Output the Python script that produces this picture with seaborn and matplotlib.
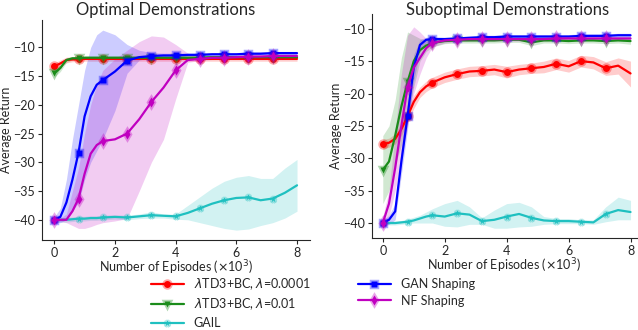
"""
plot.py
Average return vs. episodes for optimal and suboptimal demonstrations.
"""

import matplotlib
matplotlib.use("Agg")
import matplotlib.pyplot as plt
import seaborn as sns

# x grid (episodes, x10^3)
episodes = [0, 0.2, 0.4, 0.6, 0.8, 1.0, 1.2, 1.4, 1.6, 2.0, 2.4, 2.8, 3.2,
            3.6, 4.0, 4.4, 4.8, 5.2, 5.6, 6.0, 6.4, 6.8, 7.2, 7.6, 8.0]
marker_idx = [0, 4, 8, 10, 12, 14, 16, 18, 20, 22]

labels = [r"$\lambda$TD3+BC, $\lambda$=0.0001", r"$\lambda$TD3+BC, $\lambda$=0.01",
          "GAIL", "GAN Shaping", "NF Shaping"]
colors = ["#ff0000", "#1a8c1a", "#1fc0c0", "#0000ff", "#c000c0"]
markers = ["o", "v", "*", "s", "d"]

# ---- optimal demonstrations ----
opt_td3_4 = [-13.3, -12.8, -12.2, -12.1, -12.1, -12.0, -12.0, -12.0, -12.0, -12.0, -12.0, -12.0, -12.0,
             -12.0, -12.0, -12.0, -12.0, -12.0, -12.0, -12.0, -12.0, -12.0, -12.0, -12.0, -12.0]
opt_td3_4_lo = [-13.9, -13.4, -12.7, -12.5, -12.5, -12.4, -12.4, -12.4, -12.4, -12.4, -12.4, -12.4, -12.4,
                -12.4, -12.4, -12.4, -12.4, -12.4, -12.4, -12.4, -12.4, -12.4, -12.4, -12.4, -12.4]
opt_td3_4_hi = [-12.7, -12.2, -11.7, -11.7, -11.7, -11.6, -11.6, -11.6, -11.6, -11.6, -11.6, -11.6, -11.6,
                -11.6, -11.6, -11.6, -11.6, -11.6, -11.6, -11.6, -11.6, -11.6, -11.6, -11.6, -11.6]

opt_td3_2 = [-14.5, -13.6, -12.2, -11.9, -11.9, -11.8, -11.8, -11.8, -11.8, -11.8, -11.8, -11.8, -11.8,
             -11.8, -11.8, -11.8, -11.8, -11.7, -11.7, -11.7, -11.7, -11.7, -11.7, -11.7, -11.7]
opt_td3_2_lo = [-15.2, -14.2, -12.6, -12.2, -12.2, -12.1, -12.1, -12.1, -12.1, -12.1, -12.1, -12.1, -12.1,
                -12.1, -12.1, -12.1, -12.1, -12.0, -12.0, -12.0, -12.0, -12.0, -12.0, -12.0, -12.0]
opt_td3_2_hi = [-13.8, -13.0, -11.8, -11.6, -11.6, -11.5, -11.5, -11.5, -11.5, -11.5, -11.5, -11.5, -11.5,
                -11.5, -11.5, -11.5, -11.5, -11.4, -11.4, -11.4, -11.4, -11.4, -11.4, -11.4, -11.4]

opt_gail = [-40.0, -40.0, -40.0, -39.9, -39.8, -39.8, -39.7, -39.7, -39.6, -39.5, -39.6, -39.4, -39.2,
            -39.3, -39.4, -38.8, -38.0, -37.2, -36.6, -36.2, -36.1, -36.6, -36.3, -35.3, -34.0]
opt_gail_lo = [-40.4, -40.4, -40.4, -40.3, -40.2, -40.2, -40.1, -40.1, -40.0, -39.9, -40.0, -39.8, -39.7,
               -39.7, -39.9, -40.0, -40.5, -41.0, -41.5, -41.8, -41.6, -41.0, -40.5, -39.7, -38.5]
opt_gail_hi = [-39.6, -39.6, -39.6, -39.5, -39.4, -39.4, -39.3, -39.3, -39.2, -39.1, -39.2, -39.0, -38.6,
               -39.0, -39.0, -37.5, -36.0, -34.5, -33.3, -32.6, -32.3, -32.8, -32.8, -31.0, -29.5]

opt_gan = [-40.0, -39.5, -37.0, -33.0, -28.3, -22.0, -18.5, -16.5, -15.7, -14.2, -12.3, -11.7, -11.5,
           -11.4, -11.4, -11.3, -11.3, -11.2, -11.2, -11.2, -11.1, -11.1, -11.0, -11.0, -11.0]
opt_gan_lo = [-40.5, -40.5, -40.0, -38.5, -37.0, -33.0, -30.0, -28.0, -26.0, -21.0, -14.5, -12.2, -11.8,
              -11.7, -11.7, -11.6, -11.6, -11.5, -11.5, -11.5, -11.4, -11.4, -11.3, -11.3, -11.3]
opt_gan_hi = [-39.5, -38.0, -33.0, -26.0, -20.0, -14.0, -10.0, -7.8, -7.0, -7.8, -9.5, -10.5, -10.9,
              -11.0, -11.0, -11.0, -11.0, -10.9, -10.9, -10.9, -10.8, -10.8, -10.7, -10.7, -10.7]

opt_nf = [-40.0, -40.0, -40.0, -38.5, -36.3, -32.0, -28.5, -27.0, -26.3, -26.0, -25.0, -22.5, -19.5,
          -17.0, -14.0, -12.2, -12.0, -11.8, -11.8, -11.7, -11.6, -11.6, -11.5, -11.5, -11.5]
opt_nf_lo = [-40.3, -40.3, -40.5, -41.0, -41.5, -41.5, -41.2, -40.8, -40.5, -40.2, -39.8, -35.0, -30.0,
             -26.0, -19.0, -12.6, -12.3, -12.1, -12.1, -12.0, -11.9, -11.9, -11.8, -11.8, -11.8]
opt_nf_hi = [-39.7, -39.7, -39.0, -35.0, -31.0, -25.0, -20.0, -16.5, -14.0, -12.0, -10.5, -9.0, -8.0,
             -8.2, -9.5, -11.0, -11.5, -11.5, -11.5, -11.4, -11.3, -11.3, -11.2, -11.2, -11.2]

# ---- suboptimal demonstrations ----
sub_td3_4 = [-27.8, -27.6, -27.0, -25.5, -23.5, -21.3, -19.8, -18.9, -18.3, -17.5, -17.0, -16.6, -16.5,
             -16.3, -16.7, -16.3, -16.1, -15.9, -15.4, -15.8, -15.0, -15.2, -16.1, -15.7, -16.9]
sub_td3_4_lo = [-28.5, -28.3, -27.8, -26.5, -24.5, -22.3, -20.6, -19.7, -19.1, -18.3, -17.8, -17.4, -17.3,
                -17.1, -17.6, -17.1, -16.9, -16.8, -16.3, -16.7, -15.9, -16.2, -17.2, -17.0, -19.0]
sub_td3_4_hi = [-27.1, -26.9, -26.2, -24.5, -22.5, -20.3, -19.0, -18.1, -17.5, -16.7, -16.2, -15.8, -15.7,
                -15.5, -15.8, -15.5, -15.3, -15.0, -14.5, -14.9, -14.1, -14.3, -15.1, -14.5, -15.0]

sub_td3_2 = [-31.8, -30.5, -26.5, -22.0, -18.2, -15.0, -13.3, -12.6, -12.2, -11.9, -11.8, -11.8, -11.8,
             -11.8, -11.7, -11.7, -12.1, -11.8, -11.8, -11.9, -11.8, -11.8, -11.9, -11.8, -11.9]
sub_td3_2_lo = [-37.0, -35.0, -31.0, -28.0, -24.0, -19.0, -15.0, -13.5, -12.8, -12.3, -12.2, -12.2, -12.2,
                -12.2, -12.1, -12.1, -12.6, -12.2, -12.2, -12.3, -12.2, -12.2, -12.3, -12.2, -12.4]
sub_td3_2_hi = [-26.5, -25.0, -21.0, -14.5, -10.5, -11.0, -11.5, -11.7, -11.7, -11.5, -11.4, -11.4, -11.4,
                -11.4, -11.3, -11.3, -11.7, -11.4, -11.4, -11.5, -11.4, -11.4, -11.5, -11.4, -11.5]

sub_gail = [-40.0, -40.0, -40.0, -39.9, -39.8, -39.6, -39.3, -39.0, -38.8, -39.0, -38.5, -38.7, -39.7,
            -39.5, -39.0, -38.6, -39.2, -39.6, -39.7, -39.7, -39.8, -39.9, -38.6, -38.0, -38.3]
sub_gail_lo = [-40.3, -40.3, -40.3, -40.2, -40.1, -40.0, -40.0, -40.0, -40.0, -40.5, -40.6, -40.2, -40.2,
               -40.8, -40.8, -40.6, -40.5, -40.2, -40.1, -40.1, -40.1, -40.2, -39.8, -39.5, -39.5]
sub_gail_hi = [-39.7, -39.7, -39.7, -39.6, -39.4, -39.1, -38.8, -38.3, -37.8, -37.0, -36.5, -37.5, -39.2,
               -38.0, -37.0, -36.8, -37.5, -39.0, -39.3, -39.3, -39.5, -39.5, -37.5, -36.0, -36.5]

sub_gan = [-40.0, -39.5, -38.2, -30.5, -23.5, -16.0, -12.5, -11.7, -11.6, -11.6, -11.5, -11.4, -11.3,
           -11.3, -11.2, -11.2, -11.2, -11.2, -11.2, -11.2, -11.1, -11.1, -11.1, -11.0, -11.0]
sub_gan_lo = [-40.4, -40.2, -39.5, -32.5, -25.5, -18.0, -13.5, -12.2, -12.0, -11.9, -11.8, -11.7, -11.6,
              -11.6, -11.5, -11.5, -11.5, -11.5, -11.5, -11.5, -11.4, -11.4, -11.4, -11.3, -11.3]
sub_gan_hi = [-39.6, -38.8, -37.0, -28.5, -21.5, -14.0, -11.7, -11.3, -11.2, -11.3, -11.2, -11.1, -11.0,
              -11.0, -10.9, -10.9, -10.9, -10.9, -10.9, -10.9, -10.8, -10.8, -10.8, -10.7, -10.7]

sub_nf = [-40.0, -37.0, -31.5, -25.0, -19.0, -16.0, -14.5, -13.0, -12.2, -11.8, -11.7, -11.6, -11.6,
          -11.6, -11.6, -11.6, -11.6, -11.6, -11.5, -11.5, -11.5, -11.5, -11.5, -11.5, -11.5]
sub_nf_lo = [-41.0, -39.0, -35.0, -30.0, -25.0, -20.0, -17.0, -14.5, -12.8, -12.2, -12.0, -11.9, -11.9,
             -11.9, -11.9, -11.9, -11.9, -11.9, -11.8, -11.8, -11.8, -11.8, -11.8, -11.8, -11.8]
sub_nf_hi = [-39.0, -35.0, -26.0, -17.0, -11.0, -9.7, -10.5, -11.5, -11.8, -11.5, -11.4, -11.3, -11.3,
             -11.3, -11.3, -11.3, -11.3, -11.3, -11.2, -11.2, -11.2, -11.2, -11.2, -11.2, -11.2]

panels = [
    ("Optimal Demonstrations",
     [(opt_td3_4, opt_td3_4_lo, opt_td3_4_hi), (opt_td3_2, opt_td3_2_lo, opt_td3_2_hi),
      (opt_gail, opt_gail_lo, opt_gail_hi), (opt_gan, opt_gan_lo, opt_gan_hi),
      (opt_nf, opt_nf_lo, opt_nf_hi)],
     (-43.5, -5.2)),
    ("Suboptimal Demonstrations",
     [(sub_td3_4, sub_td3_4_lo, sub_td3_4_hi), (sub_td3_2, sub_td3_2_lo, sub_td3_2_hi),
      (sub_gail, sub_gail_lo, sub_gail_hi), (sub_gan, sub_gan_lo, sub_gan_hi),
      (sub_nf, sub_nf_lo, sub_nf_hi)],
     (-42.3, -7.7)),
]

sns.set_style("ticks")
plt.rcParams["font.family"] = ["Lato", "DejaVu Sans"]
plt.rcParams["axes.unicode_minus"] = True

fig = plt.figure(figsize=(6.38, 3.30), dpi=100)
axes = [fig.add_axes([0.066, 0.273, 0.420, 0.667]),
        fig.add_axes([0.583, 0.279, 0.415, 0.679])]
xlims = [(-0.4, 8.43), (-0.35, 8.2)]
title_x = [0.259, 0.795]

handles = []
for ax, (title, series, ylim), xlim, tx in zip(axes, panels, xlims, title_x):
    # draw bands first so lines stay on top
    for (mean, lo, hi), c in zip(series, colors):
        ax.fill_between(episodes, lo, hi, color=c, alpha=0.2, linewidth=0)
    handles = []
    for (mean, lo, hi), c, m, lab in zip(series, colors, markers, labels):
        sns.lineplot(x=episodes, y=mean, ax=ax, color=c, linewidth=1.6,
                     marker=m, markersize=5, markevery=marker_idx,
                     markeredgecolor=(*matplotlib.colors.to_rgb(c), 0.35),
                     markeredgewidth=2.5, label=lab, legend=False)
        handles.append(ax.lines[-1])

    ax.set_xlim(*xlim)
    ax.set_ylim(*ylim)
    ax.set_xticks([0, 2, 4, 6, 8])
    ax.set_yticks([-40, -35, -30, -25, -20, -15, -10])
    fig.text(tx, 0.97, title, fontsize=12, ha="center", va="center")
    ax.set_xlabel(r"Number of Episodes ($\times$10$^3$)", fontsize=9, labelpad=0)
    ax.set_ylabel("Average Return", fontsize=9, labelpad=1)
    ax.tick_params(labelsize=9, length=3, pad=2)
    sns.despine(ax=ax)

fig.legend(handles, labels, loc="upper left", ncol=2,
           bbox_to_anchor=(0.237, 0.163), frameon=False, fontsize=9,
           handlelength=2.6, columnspacing=3.8, labelspacing=0.38,
           borderaxespad=0, borderpad=0)

fig.savefig("out.png", dpi=100)
